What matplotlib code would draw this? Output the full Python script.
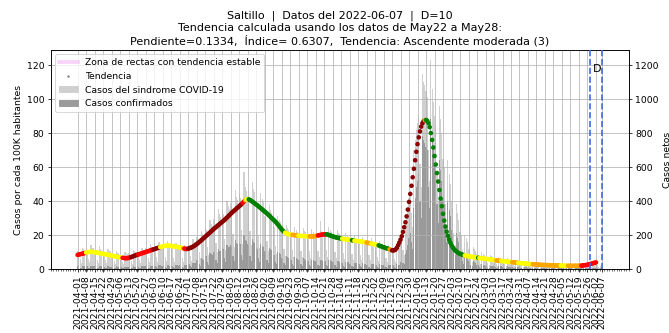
import numpy as np
import pandas as pd
import matplotlib
matplotlib.use("Agg")
import matplotlib.pyplot as plt
import matplotlib.dates as mdates
from matplotlib.lines import Line2D
from matplotlib.patches import Patch

ciudad = "Saltillo"
fecha_inicio = "2021-04-01"
fecha_datos = "2022-06-07"
fin_ventana = "2022-05-28"
retraso_d = 10
pendiente = 0.1334
indice = 0.6307
tendencia_txt = "Ascendente moderada (3)"

# Casos diarios (síndrome COVID-19), una fila por semana desde el jueves 2021-04-01
casos_sindrome = [
    105, 98, 57, 36, 124, 117, 108,
    113, 112, 60, 40, 140, 124, 121,
    110, 102, 55, 38, 133, 120, 113,
    101, 94, 52, 34, 120, 109, 104,
    88, 86, 47, 30, 108, 97, 94,
    85, 79, 44, 28, 100, 93, 88,
    95, 90, 49, 32, 112, 104, 99,
    104, 101, 55, 35, 126, 114, 111,
    121, 114, 63, 41, 145, 132, 126,
    131, 125, 70, 44, 158, 143, 137,
    138, 129, 72, 45, 165, 150, 142,
    125, 121, 66, 42, 151, 137, 133,
    120, 116, 63, 40, 144, 133, 127,
    147, 139, 78, 49, 176, 162, 154,
    189, 181, 99, 63, 226, 206, 199,
    242, 229, 127, 81, 289, 265, 253,
    295, 278, 154, 98, 352, 321, 309,
    336, 321, 176, 112, 401, 368, 352,
    389, 368, 204, 130, 463, 425, 408,
    441, 418, 231, 147, 572, 483, 462,
    431, 409, 226, 144, 512, 472, 451,
    378, 359, 198, 126, 450, 414, 396,
    315, 301, 165, 105, 375, 345, 330,
    263, 249, 138, 88, 313, 287, 275,
    221, 209, 116, 74, 262, 241, 231,
    210, 201, 110, 70, 250, 230, 220,
    205, 194, 107, 68, 244, 224, 215,
    200, 189, 105, 67, 238, 218, 209,
    205, 196, 107, 68, 285, 224, 214,
    210, 199, 110, 70, 250, 231, 220,
    194, 186, 102, 65, 231, 213, 204,
    179, 169, 94, 60, 212, 196, 187,
    168, 161, 88, 56, 200, 184, 176,
    158, 149, 83, 53, 188, 172, 165,
    152, 146, 80, 51, 181, 167, 160,
    137, 129, 72, 46, 163, 150, 143,
    121, 116, 63, 40, 144, 132, 127,
    116, 109, 61, 39, 138, 127, 121,
    150, 170, 110, 80, 260, 300, 340,
    420, 460, 330, 250, 700, 760, 820,
    860, 900, 620, 480, 1150, 1100, 1080,
    1050, 1010, 700, 520, 1231, 1060, 980,
    900, 840, 560, 400, 960, 880, 800,
    650, 600, 380, 260, 640, 560, 500,
    400, 360, 210, 140, 380, 330, 290,
    220, 200, 110, 70, 200, 180, 160,
    120, 110, 60, 40, 130, 115, 105,
    90, 85, 45, 30, 100, 90, 85,
    72, 66, 36, 23, 82, 75, 71,
    61, 56, 30, 19, 69, 63, 60,
    55, 50, 28, 18, 63, 58, 55,
    50, 45, 25, 16, 56, 52, 49,
    44, 40, 22, 14, 50, 46, 44,
    35, 32, 18, 11, 40, 37, 35,
    33, 30, 17, 11, 38, 35, 33,
    31, 28, 15, 10, 35, 32, 31,
    29, 26, 14, 9, 33, 30, 29,
    29, 26, 14, 9, 33, 30, 29,
    31, 28, 15, 10, 35, 32, 31,
    33, 30, 17, 11, 38, 35, 33,
    33, 30, 17, 11, 38, 35, 33,
    28, 24, 12, 7, 20, 12,
]

# Casos diarios confirmados
casos_confirmados = [
    16, 15, 8, 5, 19, 17, 16,
    16, 15, 8, 5, 19, 17, 16,
    15, 14, 8, 5, 18, 16, 15,
    13, 12, 7, 4, 15, 14, 13,
    13, 12, 7, 4, 15, 14, 13,
    11, 10, 6, 4, 13, 12, 11,
    13, 12, 7, 4, 15, 14, 13,
    15, 14, 8, 5, 18, 16, 15,
    16, 15, 8, 5, 19, 17, 16,
    19, 18, 10, 6, 23, 21, 20,
    19, 18, 10, 6, 23, 21, 20,
    19, 18, 10, 6, 23, 21, 20,
    21, 20, 11, 7, 25, 23, 22,
    32, 30, 17, 11, 38, 35, 33,
    53, 50, 28, 18, 63, 58, 55,
    79, 75, 41, 26, 94, 86, 83,
    100, 95, 52, 33, 119, 109, 105,
    121, 115, 63, 40, 144, 132, 127,
    142, 135, 74, 47, 169, 155, 149,
    158, 150, 83, 53, 200, 173, 165,
    147, 140, 77, 49, 175, 161, 154,
    126, 120, 66, 42, 150, 138, 132,
    105, 100, 55, 35, 125, 115, 110,
    84, 80, 44, 28, 100, 92, 88,
    63, 60, 33, 21, 75, 69, 66,
    58, 55, 30, 19, 69, 63, 61,
    53, 50, 28, 18, 63, 58, 55,
    47, 45, 25, 16, 56, 52, 50,
    47, 45, 25, 16, 56, 52, 50,
    47, 45, 25, 16, 56, 52, 50,
    42, 40, 22, 14, 50, 46, 44,
    37, 35, 19, 12, 44, 40, 39,
    32, 30, 17, 11, 38, 35, 33,
    29, 28, 15, 10, 35, 32, 31,
    26, 25, 14, 9, 31, 29, 28,
    23, 22, 12, 8, 28, 25, 24,
    21, 20, 11, 7, 25, 23, 22,
    23, 22, 12, 8, 28, 25, 24,
    40, 50, 35, 28, 90, 110, 140,
    180, 210, 160, 120, 360, 420, 480,
    520, 560, 400, 300, 780, 760, 740,
    720, 700, 480, 360, 880, 760, 700,
    620, 580, 380, 270, 640, 580, 520,
    420, 380, 240, 160, 400, 350, 310,
    230, 200, 120, 80, 210, 180, 160,
    100, 90, 50, 32, 90, 80, 70,
    45, 40, 22, 15, 48, 42, 38,
    25, 24, 13, 9, 28, 26, 24,
    18, 17, 9, 6, 20, 18, 17,
    15, 14, 8, 5, 17, 16, 15,
    13, 12, 7, 4, 15, 14, 13,
    11, 10, 6, 4, 13, 12, 11,
    10, 9, 5, 3, 11, 10, 10,
    8, 7, 4, 2, 9, 8, 8,
    7, 6, 3, 2, 8, 7, 7,
    7, 6, 3, 2, 8, 7, 7,
    6, 5, 3, 2, 7, 6, 6,
    6, 5, 3, 2, 7, 6, 6,
    7, 6, 3, 2, 8, 7, 7,
    8, 7, 4, 2, 9, 8, 8,
    8, 7, 4, 2, 9, 8, 8,
    6, 5, 3, 2, 4, 2,
]

# Tendencia diaria por cada 100K habitantes
tendencia = [
    8.3, 8.5, 8.7, 8.9, 9.0, 9.2, 9.5,
    9.7, 9.9, 10.0, 10.1, 10.2, 10.1, 10.0,
    9.9, 9.8, 9.7, 9.5, 9.4, 9.2, 9.1,
    9.0, 8.8, 8.7, 8.5, 8.4, 8.2, 8.0,
    7.9, 7.7, 7.6, 7.4, 7.3, 7.1, 7.0,
    6.9, 6.7, 6.6, 6.5, 6.4, 6.4, 6.4,
    6.6, 6.8, 7.0, 7.3, 7.6, 7.9, 8.1,
    8.4, 8.6, 8.8, 9.1, 9.3, 9.5, 9.8,
    10.0, 10.2, 10.5, 10.7, 11.0, 11.2, 11.5,
    11.7, 11.9, 12.2, 12.4, 12.6, 12.9, 13.1,
    13.3, 13.5, 13.6, 13.7, 13.8, 13.8, 13.7,
    13.6, 13.5, 13.3, 13.2, 13.1, 13.0, 12.9,
    12.7, 12.6, 12.4, 12.2, 12.0, 11.8, 11.8,
    12.0, 12.2, 12.5, 12.8, 13.2, 13.6, 14.1,
    14.6, 15.2, 15.8, 16.4, 17.0, 17.7, 18.3,
    18.9, 19.6, 20.2, 20.9, 21.5, 22.2, 22.8,
    23.5, 24.1, 24.7, 25.3, 25.9, 26.5, 27.1,
    27.7, 28.3, 28.9, 29.6, 30.3, 31.0, 31.7,
    32.4, 33.1, 33.8, 34.4, 35.0, 35.7, 36.3,
    36.9, 37.6, 38.2, 39.0, 39.8, 40.5, 41.0,
    41.2, 41.0, 40.6, 40.1, 39.6, 39.1, 38.5,
    38.0, 37.5, 36.9, 36.3, 35.7, 35.1, 34.5,
    33.9, 33.3, 32.7, 32.0, 31.3, 30.6, 29.9,
    29.2, 28.5, 27.8, 27.0, 26.1, 25.2, 24.3,
    23.4, 22.6, 21.9, 21.4, 21.0, 20.7, 20.5,
    20.3, 20.2, 20.1, 20.0, 19.9, 19.8, 19.7,
    19.6, 19.5, 19.5, 19.4, 19.4, 19.4, 19.3,
    19.3, 19.2, 19.2, 19.2, 19.2, 19.2, 19.3,
    19.4, 19.6, 19.8, 19.9, 20.1, 20.2, 20.3,
    20.4, 20.4, 20.4, 20.3, 20.0, 19.8, 19.5,
    19.3, 19.0, 18.8, 18.6, 18.4, 18.3, 18.1,
    18.0, 17.9, 17.7, 17.6, 17.5, 17.4, 17.3,
    17.2, 17.1, 17.0, 16.9, 16.7, 16.6, 16.5,
    16.4, 16.3, 16.2, 16.1, 16.0, 15.9, 15.7,
    15.6, 15.4, 15.3, 15.1, 15.0, 14.8, 14.6,
    14.4, 14.3, 14.1, 13.9, 13.6, 13.4, 13.1,
    12.8, 12.6, 12.3, 12.1, 11.9, 11.6, 11.3,
    11.0, 10.9, 11.1, 11.6, 12.5, 14.0, 15.6,
    17.3, 19.3, 21.8, 24.6, 27.5, 31.0, 35.0,
    39.5, 44.2, 49.0, 54.0, 59.0, 64.0, 69.0,
    73.5, 77.5, 81.0, 83.8, 85.8, 87.0, 87.6,
    87.7, 87.2, 85.8, 83.5, 80.0, 76.0, 71.5,
    66.5, 61.5, 56.5, 51.5, 46.5, 41.5, 37.0,
    32.5, 28.5, 25.0, 22.0, 19.5, 17.3, 15.5,
    14.0, 12.8, 11.8, 11.0, 10.3, 9.8, 9.3,
    9.0, 8.7, 8.4, 8.2, 8.0, 7.8, 7.7,
    7.5, 7.4, 7.3, 7.2, 7.0, 6.9, 6.8,
    6.7, 6.6, 6.5, 6.4, 6.3, 6.2, 6.1,
    6.0, 5.9, 5.8, 5.7, 5.6, 5.5, 5.4,
    5.3, 5.2, 5.1, 5.0, 4.9, 4.8, 4.8,
    4.7, 4.6, 4.5, 4.5, 4.4, 4.3, 4.2,
    4.1, 4.0, 4.0, 3.9, 3.8, 3.7, 3.6,
    3.6, 3.5, 3.4, 3.3, 3.3, 3.2, 3.1,
    3.1, 3.0, 2.9, 2.9, 2.8, 2.8, 2.7,
    2.7, 2.6, 2.6, 2.5, 2.5, 2.4, 2.4,
    2.4, 2.3, 2.3, 2.3, 2.2, 2.2, 2.2,
    2.1, 2.1, 2.1, 2.1, 2.0, 2.0, 2.0,
    2.0, 2.0, 2.0, 1.9, 1.9, 1.9, 1.9,
    1.9, 1.9, 1.9, 1.9, 1.9, 1.9, 1.9,
    2.0, 2.0, 2.0, 2.1, 2.2, 2.3, 2.4,
    2.5, 2.7, 2.9, 3.1, 3.3, 3.5, 3.7,
    3.9,
]

# Clasificación de la tendencia por tramos: (clase, número de días)
tramos_clase = [
    ("R", 7), ("Y", 30), ("R", 7), ("D", 6), ("R", 12), ("D", 6),
    ("Y", 19), ("O", 1), ("R", 3), ("D", 45), ("R", 2), ("O", 1),
    ("Y", 2), ("G", 30), ("Y", 6), ("O", 5), ("Y", 9), ("O", 7),
    ("R", 7), ("G", 13), ("Y", 8), ("G", 2), ("Y", 10), ("O", 4),
    ("Y", 6), ("G", 9), ("O", 2), ("D", 27), ("O", 1), ("G", 32),
    ("Y", 11), ("G", 1), ("Y", 14), ("O", 4), ("Y", 9), ("O", 5),
    ("Y", 12), ("O", 23), ("Y", 6), ("O", 11), ("R", 13),
]
color_clase = {"Y": "#ffff00", "O": "#ffa500", "R": "#ff0000",
               "D": "#8b0000", "G": "#008000"}

dias = pd.date_range(fecha_inicio, fecha_datos, freq="D")
dias_tend = dias[:len(tendencia)]
colores_tend = [color_clase[c] for c, n in tramos_clase for _ in range(n)]

fig = plt.figure(figsize=(10, 4.98), dpi=66.9)
ax1 = fig.add_axes([0.076, 0.192, 0.864, 0.658])
ax2 = ax1.twinx()

# Barras de casos netos (eje derecho)
ax2.bar(dias, casos_sindrome, width=0.9, color="#d0d0d0", zorder=1)
ax2.bar(dias, casos_confirmados, width=0.9, color="#9a9a9a", zorder=2)
ax2.set_ylim(0, 1290)
ax2.set_yticks(range(0, 1201, 200))
ax2.set_ylabel("Casos netos")

# Tendencia (eje izquierdo) sobre las barras
ax1.set_zorder(ax2.get_zorder() + 1)
ax1.patch.set_visible(False)
ax1.scatter(dias_tend, tendencia, c=colores_tend, s=24, linewidths=0, zorder=3)
ax1.set_ylim(0, 129)
ax1.set_yticks(range(0, 121, 20))
ax1.set_ylabel("Casos por cada 100K habitantes")

ax1.axvline(pd.Timestamp(fin_ventana), color="royalblue", ls="--", lw=1.8, zorder=4)
ax1.axvline(pd.Timestamp(fecha_datos), color="royalblue", ls="--", lw=1.8, zorder=4)
ax1.text(pd.Timestamp(fin_ventana) + pd.Timedelta(days=6), 0.9, "D",
         transform=ax1.get_xaxis_transform(), ha="center", va="baseline", fontsize=12)

marcas = list(pd.date_range(fecha_inicio, "2022-06-02", freq="7D")) + [pd.Timestamp(fecha_datos)]
ax1.set_xticks(marcas)
ax1.set_xticklabels([m.strftime("%Y-%m-%d") for m in marcas], rotation=90)
ax1.xaxis.set_minor_locator(mdates.DayLocator(interval=2))
ax1.tick_params(axis="x", which="minor", length=2)
ax1.grid(True, color="#b0b0b0", lw=0.8)

manejadores = [
    Line2D([0], [0], color="violet", alpha=0.35, lw=4),
    Line2D([0], [0], ls="", marker=".", color="grey", markersize=3),
    Patch(color="#d0d0d0"),
    Patch(color="#9a9a9a"),
]
etiquetas = ["Zona de rectas con tendencia estable", "Tendencia",
             "Casos del sindrome COVID-19", "Casos confirmados"]
ax1.legend(manejadores, etiquetas, loc="upper left")

ax1.set_title(f"{ciudad}  |  Datos del {fecha_datos}  |  D={retraso_d}\n"
              f"Tendencia calculada usando los datos de May22 a May28:\n"
              f"Pendiente={pendiente},  Índice= {indice},  Tendencia: {tendencia_txt}")

fig.savefig("out.png", dpi=66.9)
